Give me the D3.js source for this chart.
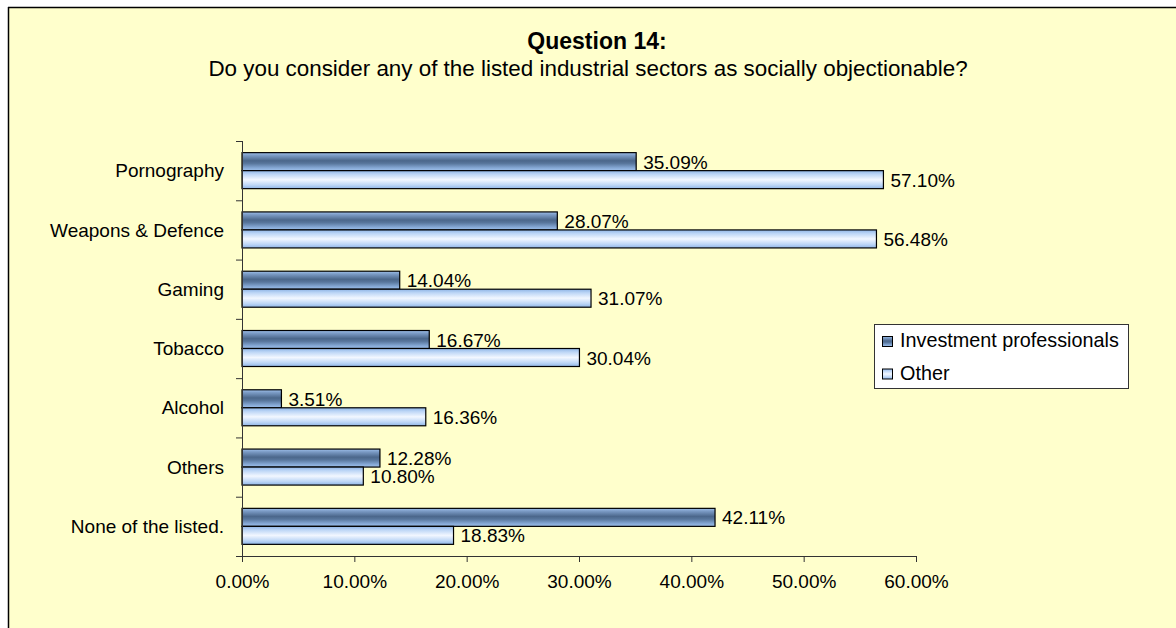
<!DOCTYPE html>
<html><head><meta charset="utf-8">
<script src="https://cdn.jsdelivr.net/npm/d3@7"></script>
<style>html,body{margin:0;padding:0;background:#fff;}svg{display:block;}text{font-family:"Liberation Sans",Arial,sans-serif;fill:#000;}</style>
</head><body>
<svg id="c" width="1176" height="628"></svg>
<script>
const categories = ["Pornography","Weapons & Defence","Gaming","Tobacco","Alcohol","Others","None of the listed."];
const seriesNames = ["Investment professionals","Other"];
const investmentPros = [35.09,28.07,14.04,16.67,3.51,12.28,42.11];
const other = [57.10,56.48,31.07,30.04,16.36,10.80,18.83];
const xTicks = [0,10,20,30,40,50,60];
const titleText = "Question 14:";
const subtitleText = "Do you consider any of the listed industrial sectors as socially objectionable?";

const svg = d3.select("#c");
const W = 1176, H = 628;
const fs = 19;

// gradients
const defs = svg.append("defs");
function grad(id, stops){
  const g = defs.append("linearGradient").attr("id", id).attr("x1",0).attr("y1",0).attr("x2",0).attr("y2",1);
  stops.forEach(s=>g.append("stop").attr("offset",s[0]).attr("stop-color",s[1]));
}
grad("gDark", [[0,"#9fc1ec"],[0.15,"#7c9cc6"],[0.45,"#4b678b"],[0.6,"#58769c"],[0.85,"#86a9d6"],[1,"#9fc1ec"]]);
grad("gLight", [[0,"#8fb5e6"],[0.2,"#bdd6f6"],[0.5,"#f2f7ff"],[0.8,"#bdd6f6"],[1,"#8fb5e6"]]);
const fills = ["url(#gDark)","url(#gLight)"];

// background + frame
svg.append("rect").attr("x",8).attr("y",7).attr("width",W-8).attr("height",H-7).attr("fill","#ffffcc");
svg.append("line").attr("x1",8).attr("x2",W).attr("y1",7.5).attr("y2",7.5).attr("stroke","#000").attr("stroke-width",1.5);
svg.append("line").attr("x1",8.5).attr("x2",8.5).attr("y1",7).attr("y2",H).attr("stroke","#000").attr("stroke-width",1.5);

// titles
svg.append("text").attr("x",597).attr("y",49).attr("text-anchor","middle").attr("font-weight","bold").attr("font-size",23).text(titleText);
svg.append("text").attr("x",588).attr("y",76).attr("text-anchor","middle").attr("font-size",22.4).text(subtitleText);

// scales
const x = d3.scaleLinear().domain([0,60]).range([242,916]);
const y0 = d3.scaleBand().domain(categories).range([141,556]).padding(0);
const barH = 18;
const y1 = d3.scaleBand().domain(seriesNames).range([0, barH*2]);
const off = (y0.bandwidth() - barH*2)/2;

const data = categories.map((c,i)=>({cat:c, vals:[investmentPros[i], other[i]]}));

const gCat = svg.append("g").selectAll("g").data(data).join("g")
  .attr("transform", d=>`translate(0,${y0(d.cat)+off})`);
gCat.selectAll("rect").data(d=>d.vals.map((v,j)=>({v,s:seriesNames[j],j}))).join("rect")
  .attr("x", x(0)).attr("y", d=>y1(d.s)).attr("width", d=>x(d.v)-x(0)).attr("height", y1.bandwidth())
  .attr("fill", d=>fills[d.j]).attr("stroke","#000").attr("stroke-width",1.2);
gCat.selectAll("text.val").data(d=>d.vals.map((v,j)=>({v,s:seriesNames[j]}))).join("text")
  .attr("class","val").attr("x", d=>x(d.v)+7).attr("y", d=>y1(d.s)+y1.bandwidth()/2+7)
  .attr("font-size",fs).text(d=>d.v.toFixed(2)+"%");

// axes
const xAxis = svg.append("g").attr("transform","translate(0,556)")
  .call(d3.axisBottom(x).tickValues(xTicks).tickSize(6).tickPadding(13).tickFormat(d=>d.toFixed(2)+"%"));
xAxis.select(".domain").attr("d",`M${x(0)-6},0.5H${x(60)}`).attr("stroke","#333");
xAxis.selectAll(".tick line").attr("stroke","#333");
xAxis.selectAll("text").attr("font-size",fs).attr("font-family","Liberation Sans, Arial, sans-serif").attr("fill","#000");

const yAxis = svg.append("g").attr("transform",`translate(${x(0)},0)`)
  .call(d3.axisLeft(y0).tickSize(0).tickPadding(18));
yAxis.select(".domain").attr("d",`M0.5,141V556`).attr("stroke","#333");
yAxis.selectAll("text").attr("font-size",fs).attr("font-family","Liberation Sans, Arial, sans-serif").attr("fill","#000").attr("dy","0.35em");
// category boundary ticks
const bounds = categories.map(c=>y0(c));
svg.append("g").selectAll("line").data(bounds).join("line")
  .attr("x1",x(0)-6).attr("x2",x(0)).attr("y1",d=>d+0.5).attr("y2",d=>d+0.5).attr("stroke","#333");

// legend
const lg = svg.append("g");
lg.append("rect").attr("x",874.5).attr("y",324.5).attr("width",254).attr("height",64).attr("fill","#fff").attr("stroke","#333");
seriesNames.forEach((s,i)=>{
  const yy = 336 + i*32.5;
  lg.append("rect").attr("x",882.5).attr("y",yy+0.5).attr("width",10).attr("height",10).attr("fill",fills[i]).attr("stroke","#000");
  lg.append("text").attr("x",900).attr("y",yy+11).attr("font-size",19.8).text(s);
});
</script>
</body></html>
